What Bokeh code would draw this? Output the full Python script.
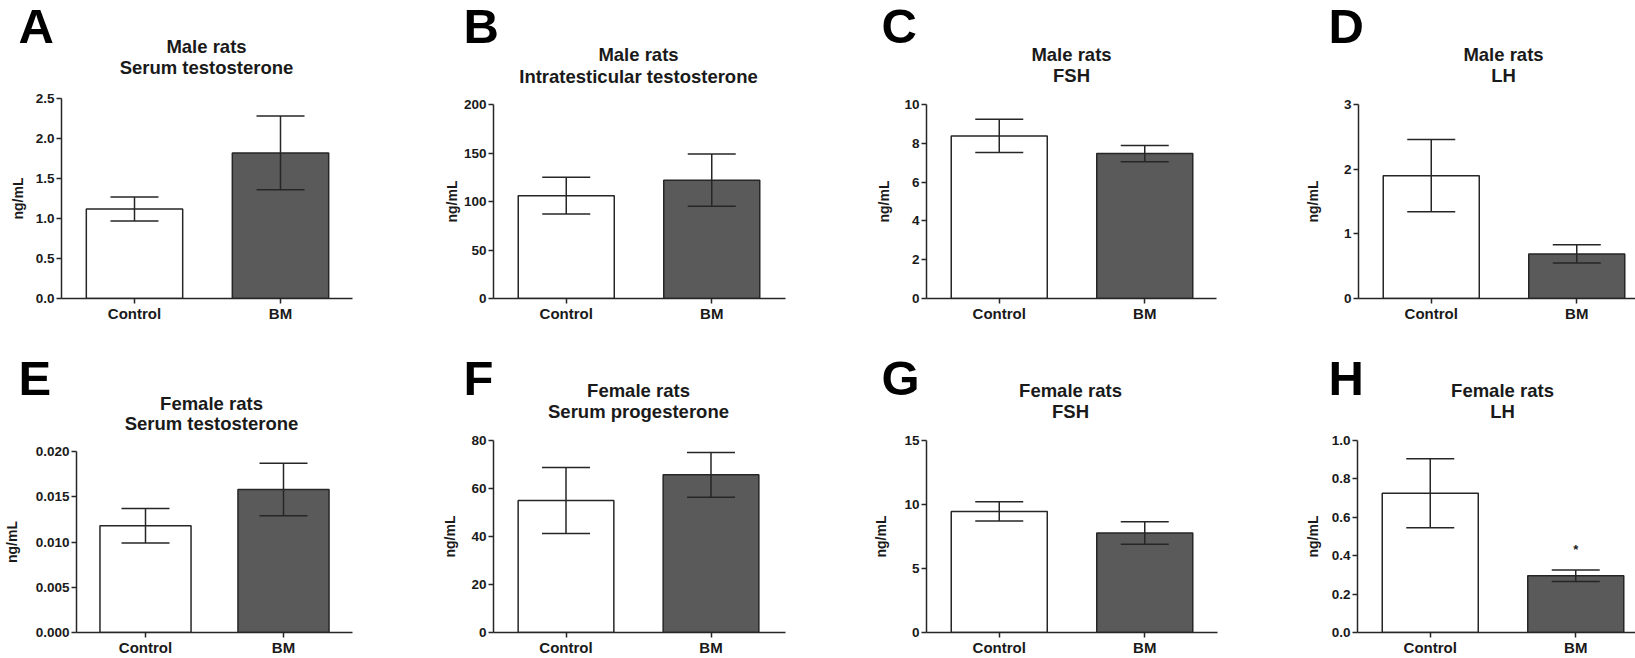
from bokeh.plotting import figure
from bokeh.models import (Range1d, FixedTicker, PrintfTickFormatter, Whisker,
                          TeeHead, ColumnDataSource)
from bokeh.layouts import column, row
from bokeh.core.properties import value
from bokeh.embed import file_html
from bokeh.resources import INLINE

# ---------------- data ----------------
panel_letters = ["A", "B", "C", "D", "E", "F", "G", "H"]
title_line1 = ["Male rats", "Male rats", "Male rats", "Male rats",
               "Female rats", "Female rats", "Female rats", "Female rats"]
title_line2 = ["Serum testosterone", "Intratesticular testosterone", "FSH", "LH",
               "Serum testosterone", "Serum progesterone", "FSH", "LH"]
categories = ["Control", "BM"]
control_mean = [1.12, 106.0, 8.38, 1.90, 0.0118, 55.0, 9.46, 0.725]
control_sem = [0.15, 19.0, 0.86, 0.56, 0.0019, 13.8, 0.75, 0.18]
bm_mean = [1.82, 122.0, 7.47, 0.69, 0.0158, 65.7, 7.78, 0.296]
bm_sem = [0.46, 27.0, 0.42, 0.14, 0.0029, 9.3, 0.88, 0.03]
y_max = [2.5, 200, 10, 3, 0.020, 80, 15, 1.0]
y_ticks = [
    [0, 0.5, 1.0, 1.5, 2.0, 2.5],
    [0, 50, 100, 150, 200],
    [0, 2, 4, 6, 8, 10],
    [0, 1, 2, 3],
    [0, 0.005, 0.010, 0.015, 0.020],
    [0, 20, 40, 60, 80],
    [0, 5, 10, 15],
    [0, 0.2, 0.4, 0.6, 0.8, 1.0],
]
y_formats = ["%.1f", "%d", "%d", "%d", "%.3f", "%d", "%d", "%.1f"]
y_label = "ng/mL"
significance = ["", "", "", "", "", "", "", "*"]

# ---------------- layout / style ----------------
FONT = "Liberation Sans"
TXT = "#1a1a1a"
AX = "#262626"
BM_FILL = "#5a5a5a"
ROW_H = 329
PAD_TOP = 10
col_w = [410, 410, 410, 405]
frame_left = [61, 83, 106, 128, 76, 83, 106, 127]
frame_w = [291, 292, 290, 277, 276, 292, 291, 278]
spacing = [146, 145.5, 145.5, 145.5, 138, 145, 145.5, 145.5]
frame_top = [98, 104, 104, 104, 122, 111, 111, 111]
frame_h = [200, 194, 194, 194, 183, 194, 194, 194]
title_cx = [206, 228, 251, 273, 211, 228, 250, 272]
title_mid = [(45.5, 67), (54, 76), (54, 75), (54, 75),
             (73.5, 93.5), (60.5, 81.5), (60.5, 81.5), (60.5, 81.5)]
letter_x = [18, 53, 61, 98, 18, 53, 61, 98]
letter_mid = [25, 25, 25, 25, 48, 48, 48, 48]
ylab_standoff = [7, 1, 9, 20, 13, 10, 12, 8]


def make_header(i):
    w = col_w[i % 4]
    h = frame_top[i] - PAD_TOP
    hp = figure(width=w, height=h, x_range=Range1d(0, w), y_range=Range1d(h, 0),
                x_axis_type=None, y_axis_type=None, output_backend="svg",
                toolbar_location=None, min_border=0)
    hp.outline_line_color = None
    hp.xgrid.visible = False
    hp.ygrid.visible = False
    hp.background_fill_color = "white"
    hp.border_fill_color = "white"
    hp.text(x=[title_cx[i], title_cx[i]], y=list(title_mid[i]),
            text=[title_line1[i], title_line2[i]], text_align="center",
            text_baseline="middle", text_font=value(FONT), text_font_style="bold",
            text_font_size="18.5px", text_color=TXT)
    hp.text(x=[letter_x[i]], y=[letter_mid[i]], text=[panel_letters[i]],
            text_align="left", text_baseline="middle", text_font=value(FONT),
            text_font_style="bold", text_font_size="49px", text_color="black")
    return hp


def make_chart(i):
    w = col_w[i % 4]
    fl, fw, fh = frame_left[i], frame_w[i], frame_h[i]
    h = ROW_H - (frame_top[i] - PAD_TOP)
    x_end = -0.5 + fw / spacing[i]
    p = figure(width=w, height=h, x_range=Range1d(-0.5, x_end),
               y_range=Range1d(0, y_max[i]), output_backend="svg",
               toolbar_location=None, min_border_left=fl, min_border_right=w - fl - fw,
               min_border_top=PAD_TOP, min_border_bottom=h - PAD_TOP - fh)
    p.outline_line_color = None
    p.xgrid.visible = False
    p.ygrid.visible = False
    p.background_fill_color = "white"
    p.border_fill_color = "white"

    src = ColumnDataSource(dict(
        x=[0, 1],
        top=[control_mean[i], bm_mean[i]],
        upper=[control_mean[i] + control_sem[i], bm_mean[i] + bm_sem[i]],
        lower=[control_mean[i] - control_sem[i], bm_mean[i] - bm_sem[i]],
        fill=["white", BM_FILL],
        sig=["", significance[i]],
    ))
    p.vbar(x="x", top="top", bottom=0, width=0.66, fill_color="fill",
           line_color=AX, line_width=1.5, source=src)
    wh = Whisker(base="x", upper="upper", lower="lower", source=src,
                 line_color=AX, line_width=1.5, level="overlay",
                 upper_head=TeeHead(size=48, line_color=AX, line_width=1.5),
                 lower_head=TeeHead(size=48, line_color=AX, line_width=1.5))
    p.add_layout(wh)
    if significance[i]:
        p.text(x="x", y="upper", text="sig", source=src, text_align="center",
               text_baseline="middle", y_offset=-20, text_font=value(FONT),
               text_font_style="bold", text_font_size="13px", text_color=TXT)

    for ax in (p.xaxis[0], p.yaxis[0]):
        ax.axis_line_color = AX
        ax.axis_line_width = 1.5
        ax.major_tick_line_color = AX
        ax.major_tick_line_width = 1.5
        ax.major_tick_in = 0
        ax.major_tick_out = 5
        ax.minor_tick_line_color = None
        ax.major_label_text_font = FONT
        ax.major_label_text_font_style = "bold"
        ax.major_label_text_color = TXT
    p.xaxis.ticker = FixedTicker(ticks=[0, 1])
    p.xaxis.major_label_overrides = {0: categories[0], 1: categories[1]}
    p.xaxis.major_label_text_font_size = "15px"
    p.xaxis.major_label_standoff = 1
    p.yaxis.ticker = FixedTicker(ticks=y_ticks[i])
    p.yaxis.formatter = PrintfTickFormatter(format=y_formats[i])
    p.yaxis.major_label_text_font_size = "13.5px"
    p.yaxis.major_label_standoff = 2
    p.yaxis.axis_label = y_label
    p.yaxis.axis_label_text_font = FONT
    p.yaxis.axis_label_text_font_style = "bold"
    p.yaxis.axis_label_text_font_size = "14px"
    p.yaxis.axis_label_text_color = TXT
    p.yaxis.axis_label_standoff = ylab_standoff[i]
    return p


# nesting each figure in its own column keeps Bokeh from aligning the frames
cols = [column(column(make_header(i)), column(make_chart(i)), spacing=0) for i in range(8)]
layout = column(row(*cols[:4], spacing=0), row(*cols[4:], spacing=0), spacing=0)

open("out.html", "w").write(file_html(layout, INLINE))
